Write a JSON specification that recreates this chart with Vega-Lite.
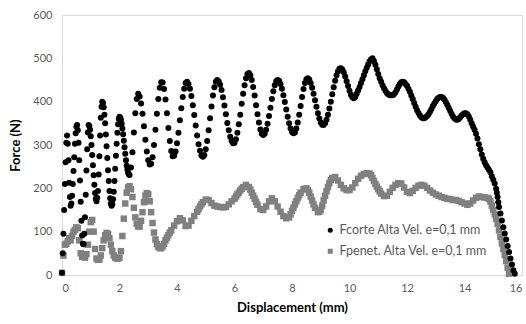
{
"$schema": "https://vega.github.io/schema/vega-lite/v6.json",
"autosize": "none",
"width": 460,
"height": 260,
"padding": {"left": 62, "top": 15, "right": 4, "bottom": 49},
"background": "white",
"config": {
  "view": {"stroke": "#d9d9d9", "strokeWidth": 1},
  "font": "Lato",
  "axis": {"labelColor": "#595959", "labelFont": "Lato", "labelFontSize": 11, "titleFont": "Lato", "titleFontSize": 13, "titleFontWeight": "bold", "titleColor": "#000000", "domainColor": "#d9d9d9", "ticks": false, "grid": false},
  "legend": {"labelColor": "#595959", "labelFont": "Lato", "labelFontSize": 12.5, "padding": 0}
},
"datasets": {
  "fc": [
{"x":0,"y":5},{"x":0.025,"y":50},{"x":0.05,"y":95},{"x":0.075,"y":150},{"x":0.1,"y":210},{"x":0.125,"y":260},{"x":0.15,"y":305},{"x":0.175,"y":322},{"x":0.2,"y":303},{"x":0.225,"y":265},{"x":0.25,"y":213},{"x":0.275,"y":180},{"x":0.3,"y":160},{"x":0.325,"y":165},{"x":0.35,"y":183},{"x":0.375,"y":210},{"x":0.4,"y":240},{"x":0.425,"y":272},{"x":0.45,"y":303},{"x":0.475,"y":327},{"x":0.5,"y":342},{"x":0.525,"y":346},{"x":0.55,"y":334},{"x":0.575,"y":305},{"x":0.6,"y":265},{"x":0.625,"y":218},{"x":0.65,"y":169},{"x":0.675,"y":125},{"x":0.7,"y":91},{"x":0.725,"y":72},{"x":0.75,"y":71},{"x":0.775,"y":95},{"x":0.8,"y":133},{"x":0.825,"y":185},{"x":0.85,"y":241},{"x":0.875,"y":290},{"x":0.9,"y":329},{"x":0.925,"y":346},{"x":0.95,"y":344},{"x":0.975,"y":335},{"x":1.0,"y":320},{"x":1.025,"y":300},{"x":1.05,"y":277},{"x":1.075,"y":253},{"x":1.1,"y":230},{"x":1.125,"y":208},{"x":1.15,"y":189},{"x":1.175,"y":176},{"x":1.2,"y":170},{"x":1.225,"y":178},{"x":1.25,"y":194},{"x":1.275,"y":232},{"x":1.3,"y":274},{"x":1.325,"y":322},{"x":1.35,"y":363},{"x":1.375,"y":388},{"x":1.4,"y":400},{"x":1.425,"y":397},{"x":1.45,"y":387},{"x":1.475,"y":370},{"x":1.5,"y":350},{"x":1.525,"y":324},{"x":1.55,"y":297},{"x":1.575,"y":270},{"x":1.6,"y":242},{"x":1.625,"y":217},{"x":1.65,"y":194},{"x":1.675,"y":177},{"x":1.7,"y":165},{"x":1.725,"y":160},{"x":1.75,"y":163},{"x":1.775,"y":175},{"x":1.8,"y":192},{"x":1.825,"y":217},{"x":1.85,"y":245},{"x":1.875,"y":275},{"x":1.9,"y":303},{"x":1.925,"y":328},{"x":1.95,"y":348},{"x":1.975,"y":360},{"x":2.0,"y":365},{"x":2.025,"y":363},{"x":2.05,"y":358},{"x":2.075,"y":349},{"x":2.1,"y":338},{"x":2.125,"y":325},{"x":2.15,"y":310},{"x":2.175,"y":295},{"x":2.2,"y":280},{"x":2.225,"y":265},{"x":2.25,"y":252},{"x":2.275,"y":243},{"x":2.3,"y":236},{"x":2.325,"y":232},{"x":2.35,"y":231},{"x":2.4,"y":248},{"x":2.45,"y":283},{"x":2.5,"y":329},{"x":2.55,"y":373},{"x":2.6,"y":406},{"x":2.65,"y":418},{"x":2.7,"y":412},{"x":2.75,"y":396},{"x":2.8,"y":372},{"x":2.85,"y":343},{"x":2.9,"y":312},{"x":2.95,"y":285},{"x":3.0,"y":265},{"x":3.05,"y":255},{"x":3.1,"y":257},{"x":3.15,"y":272},{"x":3.2,"y":300},{"x":3.25,"y":335},{"x":3.3,"y":372},{"x":3.35,"y":406},{"x":3.4,"y":432},{"x":3.45,"y":445},{"x":3.5,"y":444},{"x":3.55,"y":429},{"x":3.6,"y":405},{"x":3.65,"y":373},{"x":3.7,"y":339},{"x":3.75,"y":309},{"x":3.8,"y":286},{"x":3.85,"y":274},{"x":3.9,"y":275},{"x":3.95,"y":285},{"x":4.0,"y":304},{"x":4.05,"y":328},{"x":4.1,"y":357},{"x":4.15,"y":385},{"x":4.2,"y":411},{"x":4.25,"y":430},{"x":4.3,"y":443},{"x":4.35,"y":446},{"x":4.4,"y":441},{"x":4.45,"y":430},{"x":4.5,"y":413},{"x":4.55,"y":392},{"x":4.6,"y":369},{"x":4.65,"y":345},{"x":4.7,"y":322},{"x":4.75,"y":302},{"x":4.8,"y":287},{"x":4.85,"y":276},{"x":4.9,"y":273},{"x":4.95,"y":277},{"x":5.0,"y":290},{"x":5.05,"y":309},{"x":5.1,"y":334},{"x":5.15,"y":362},{"x":5.2,"y":389},{"x":5.25,"y":414},{"x":5.3,"y":433},{"x":5.35,"y":446},{"x":5.4,"y":450},{"x":5.45,"y":447},{"x":5.5,"y":439},{"x":5.55,"y":427},{"x":5.6,"y":410},{"x":5.65,"y":391},{"x":5.7,"y":371},{"x":5.75,"y":351},{"x":5.8,"y":334},{"x":5.85,"y":319},{"x":5.9,"y":309},{"x":5.95,"y":304},{"x":6.0,"y":305},{"x":6.05,"y":313},{"x":6.1,"y":328},{"x":6.15,"y":348},{"x":6.2,"y":370},{"x":6.25,"y":395},{"x":6.3,"y":418},{"x":6.35,"y":438},{"x":6.4,"y":454},{"x":6.45,"y":464},{"x":6.5,"y":466},{"x":6.55,"y":461},{"x":6.6,"y":450},{"x":6.65,"y":434},{"x":6.7,"y":414},{"x":6.75,"y":392},{"x":6.8,"y":371},{"x":6.85,"y":352},{"x":6.9,"y":336},{"x":6.95,"y":326},{"x":7.0,"y":323},{"x":7.05,"y":326},{"x":7.1,"y":335},{"x":7.15,"y":349},{"x":7.2,"y":367},{"x":7.25,"y":386},{"x":7.3,"y":406},{"x":7.35,"y":424},{"x":7.4,"y":438},{"x":7.45,"y":447},{"x":7.5,"y":450},{"x":7.55,"y":448},{"x":7.6,"y":441},{"x":7.65,"y":430},{"x":7.7,"y":415},{"x":7.75,"y":399},{"x":7.8,"y":382},{"x":7.85,"y":365},{"x":7.9,"y":350},{"x":7.95,"y":338},{"x":8.0,"y":330},{"x":8.05,"y":327},{"x":8.1,"y":329},{"x":8.15,"y":338},{"x":8.2,"y":352},{"x":8.25,"y":370},{"x":8.3,"y":390},{"x":8.35,"y":411},{"x":8.4,"y":429},{"x":8.45,"y":443},{"x":8.5,"y":452},{"x":8.55,"y":454},{"x":8.6,"y":451},{"x":8.65,"y":443},{"x":8.7,"y":432},{"x":8.75,"y":418},{"x":8.8,"y":403},{"x":8.85,"y":388},{"x":8.9,"y":373},{"x":8.95,"y":361},{"x":9.0,"y":352},{"x":9.05,"y":347},{"x":9.1,"y":346},{"x":9.15,"y":350},{"x":9.2,"y":358},{"x":9.25,"y":370},{"x":9.3,"y":384},{"x":9.35,"y":400},{"x":9.4,"y":417},{"x":9.45,"y":433},{"x":9.5,"y":448},{"x":9.55,"y":461},{"x":9.6,"y":470},{"x":9.65,"y":476},{"x":9.7,"y":477},{"x":9.75,"y":474},{"x":9.8,"y":468},{"x":9.85,"y":458},{"x":9.9,"y":447},{"x":9.95,"y":436},{"x":10.0,"y":425},{"x":10.05,"y":416},{"x":10.1,"y":410},{"x":10.15,"y":408},{"x":10.2,"y":411},{"x":10.25,"y":418},{"x":10.3,"y":426},{"x":10.35,"y":434},{"x":10.4,"y":443},{"x":10.45,"y":452},{"x":10.5,"y":461},{"x":10.55,"y":470},{"x":10.6,"y":478},{"x":10.65,"y":486},{"x":10.7,"y":493},{"x":10.75,"y":498},{"x":10.8,"y":500},{"x":10.85,"y":494},{"x":10.9,"y":485},{"x":10.95,"y":475},{"x":11.0,"y":464},{"x":11.05,"y":454},{"x":11.1,"y":446},{"x":11.15,"y":438},{"x":11.2,"y":431},{"x":11.25,"y":425},{"x":11.3,"y":420},{"x":11.35,"y":417},{"x":11.4,"y":415},{"x":11.45,"y":415},{"x":11.5,"y":415},{"x":11.55,"y":417},{"x":11.6,"y":422},{"x":11.65,"y":428},{"x":11.7,"y":435},{"x":11.75,"y":441},{"x":11.8,"y":445},{"x":11.85,"y":446},{"x":11.9,"y":445},{"x":11.95,"y":441},{"x":12.0,"y":437},{"x":12.05,"y":430},{"x":12.1,"y":423},{"x":12.15,"y":414},{"x":12.2,"y":406},{"x":12.25,"y":397},{"x":12.3,"y":388},{"x":12.35,"y":380},{"x":12.4,"y":374},{"x":12.45,"y":368},{"x":12.5,"y":364},{"x":12.55,"y":362},{"x":12.6,"y":362},{"x":12.65,"y":364},{"x":12.7,"y":367},{"x":12.75,"y":371},{"x":12.8,"y":377},{"x":12.85,"y":383},{"x":12.9,"y":390},{"x":12.95,"y":396},{"x":13.0,"y":401},{"x":13.05,"y":406},{"x":13.1,"y":409},{"x":13.15,"y":411},{"x":13.2,"y":411},{"x":13.25,"y":409},{"x":13.3,"y":405},{"x":13.35,"y":399},{"x":13.4,"y":393},{"x":13.45,"y":386},{"x":13.5,"y":379},{"x":13.55,"y":372},{"x":13.6,"y":366},{"x":13.65,"y":362},{"x":13.7,"y":359},{"x":13.75,"y":358},{"x":13.8,"y":360},{"x":13.85,"y":364},{"x":13.9,"y":368},{"x":13.95,"y":371},{"x":14.0,"y":373},{"x":14.05,"y":373},{"x":14.1,"y":371},{"x":14.15,"y":366},{"x":14.2,"y":358},{"x":14.25,"y":350},{"x":14.3,"y":342},{"x":14.35,"y":335},{"x":14.4,"y":326},{"x":14.45,"y":315},{"x":14.5,"y":302},{"x":14.55,"y":290},{"x":14.6,"y":278},{"x":14.65,"y":268},{"x":14.7,"y":260},{"x":14.75,"y":253},{"x":14.8,"y":248},{"x":14.85,"y":243},{"x":14.9,"y":237},{"x":14.95,"y":228},{"x":15.0,"y":220},{"x":15.05,"y":211},{"x":15.1,"y":199},{"x":15.125,"y":190},{"x":15.15,"y":180},{"x":15.175,"y":168},{"x":15.2,"y":157},{"x":15.25,"y":142},{"x":15.3,"y":126},{"x":15.35,"y":110},{"x":15.4,"y":96},{"x":15.45,"y":82},{"x":15.5,"y":67},{"x":15.55,"y":53},{"x":15.6,"y":38},{"x":15.65,"y":24},{"x":15.7,"y":11},{"x":15.75,"y":3}
  ],
  "fp": [
{"x":0,"y":5},{"x":0.05,"y":45},{"x":0.1,"y":70},{"x":0.15,"y":72},{"x":0.2,"y":78},{"x":0.25,"y":85},{"x":0.3,"y":80},{"x":0.35,"y":90},{"x":0.4,"y":100},{"x":0.45,"y":104},{"x":0.5,"y":110},{"x":0.55,"y":108},{"x":0.6,"y":80},{"x":0.65,"y":50},{"x":0.7,"y":42},{"x":0.75,"y":45},{"x":0.8,"y":40},{"x":0.85,"y":48},{"x":0.9,"y":70},{"x":0.95,"y":100},{"x":1.0,"y":122},{"x":1.05,"y":127},{"x":1.1,"y":100},{"x":1.15,"y":60},{"x":1.2,"y":38},{"x":1.25,"y":35},{"x":1.3,"y":36},{"x":1.35,"y":45},{"x":1.4,"y":62},{"x":1.45,"y":80},{"x":1.5,"y":92},{"x":1.55,"y":97},{"x":1.6,"y":95},{"x":1.65,"y":85},{"x":1.7,"y":70},{"x":1.75,"y":55},{"x":1.8,"y":45},{"x":1.85,"y":40},{"x":1.9,"y":38},{"x":1.95,"y":38},{"x":2.0,"y":40},{"x":2.05,"y":55},{"x":2.1,"y":90},{"x":2.15,"y":130},{"x":2.2,"y":165},{"x":2.25,"y":190},{"x":2.3,"y":202},{"x":2.35,"y":205},{"x":2.4,"y":198},{"x":2.45,"y":180},{"x":2.5,"y":155},{"x":2.55,"y":133},{"x":2.6,"y":118},{"x":2.65,"y":112},{"x":2.7,"y":112},{"x":2.75,"y":125},{"x":2.8,"y":145},{"x":2.85,"y":168},{"x":2.9,"y":183},{"x":2.95,"y":189},{"x":3.0,"y":186},{"x":3.05,"y":170},{"x":3.1,"y":145},{"x":3.15,"y":120},{"x":3.2,"y":98},{"x":3.25,"y":82},{"x":3.3,"y":71},{"x":3.35,"y":65},{"x":3.4,"y":62},{"x":3.45,"y":62},{"x":3.5,"y":66},{"x":3.55,"y":72},{"x":3.6,"y":80},{"x":3.65,"y":86},{"x":3.7,"y":92},{"x":3.75,"y":98},{"x":3.8,"y":103},{"x":3.9,"y":114},{"x":4.0,"y":124},{"x":4.1,"y":131},{"x":4.2,"y":126},{"x":4.3,"y":113},{"x":4.4,"y":114},{"x":4.5,"y":125},{"x":4.6,"y":136},{"x":4.7,"y":146},{"x":4.75,"y":152},{"x":4.8,"y":158},{"x":4.85,"y":163},{"x":4.9,"y":168},{"x":5.0,"y":174},{"x":5.1,"y":173},{"x":5.2,"y":166},{"x":5.3,"y":160},{"x":5.4,"y":158},{"x":5.5,"y":157},{"x":5.6,"y":156},{"x":5.7,"y":157},{"x":5.8,"y":163},{"x":5.9,"y":170},{"x":6.0,"y":176},{"x":6.05,"y":181},{"x":6.1,"y":186},{"x":6.15,"y":190},{"x":6.2,"y":195},{"x":6.25,"y":199},{"x":6.3,"y":203},{"x":6.4,"y":208},{"x":6.5,"y":203},{"x":6.55,"y":197},{"x":6.6,"y":190},{"x":6.65,"y":183},{"x":6.7,"y":176},{"x":6.75,"y":169},{"x":6.8,"y":162},{"x":6.9,"y":152},{"x":7.0,"y":150},{"x":7.1,"y":158},{"x":7.2,"y":170},{"x":7.3,"y":177},{"x":7.4,"y":170},{"x":7.5,"y":158},{"x":7.6,"y":146},{"x":7.7,"y":136},{"x":7.8,"y":131},{"x":7.9,"y":133},{"x":7.95,"y":140},{"x":8.0,"y":148},{"x":8.05,"y":155},{"x":8.1,"y":163},{"x":8.15,"y":170},{"x":8.2,"y":178},{"x":8.25,"y":184},{"x":8.3,"y":190},{"x":8.4,"y":198},{"x":8.5,"y":200},{"x":8.55,"y":196},{"x":8.6,"y":190},{"x":8.65,"y":181},{"x":8.7,"y":172},{"x":8.75,"y":163},{"x":8.8,"y":155},{"x":8.9,"y":145},{"x":8.95,"y":146},{"x":9.0,"y":150},{"x":9.05,"y":160},{"x":9.1,"y":172},{"x":9.15,"y":183},{"x":9.2,"y":193},{"x":9.25,"y":203},{"x":9.3,"y":212},{"x":9.35,"y":219},{"x":9.4,"y":224},{"x":9.5,"y":226},{"x":9.6,"y":218},{"x":9.7,"y":208},{"x":9.8,"y":200},{"x":9.9,"y":196},{"x":10.0,"y":196},{"x":10.1,"y":202},{"x":10.2,"y":212},{"x":10.3,"y":222},{"x":10.4,"y":229},{"x":10.5,"y":233},{"x":10.6,"y":235},{"x":10.7,"y":234},{"x":10.75,"y":230},{"x":10.8,"y":224},{"x":10.85,"y":217},{"x":10.9,"y":210},{"x":10.95,"y":204},{"x":11.0,"y":198},{"x":11.05,"y":193},{"x":11.1,"y":188},{"x":11.2,"y":182},{"x":11.3,"y":183},{"x":11.4,"y":192},{"x":11.5,"y":201},{"x":11.6,"y":208},{"x":11.7,"y":212},{"x":11.8,"y":211},{"x":11.9,"y":202},{"x":12.0,"y":192},{"x":12.1,"y":189},{"x":12.2,"y":194},{"x":12.3,"y":201},{"x":12.4,"y":206},{"x":12.5,"y":208},{"x":12.6,"y":206},{"x":12.7,"y":201},{"x":12.8,"y":195},{"x":12.9,"y":190},{"x":13.0,"y":186},{"x":13.1,"y":183},{"x":13.2,"y":180},{"x":13.3,"y":178},{"x":13.4,"y":176},{"x":13.5,"y":175},{"x":13.6,"y":173},{"x":13.7,"y":173},{"x":13.8,"y":171},{"x":13.9,"y":168},{"x":14.0,"y":165},{"x":14.1,"y":162},{"x":14.2,"y":165},{"x":14.3,"y":172},{"x":14.4,"y":178},{"x":14.5,"y":181},{"x":14.6,"y":180},{"x":14.7,"y":179},{"x":14.8,"y":178},{"x":14.85,"y":176},{"x":14.9,"y":170},{"x":14.95,"y":160},{"x":15.0,"y":150},{"x":15.05,"y":140},{"x":15.1,"y":130},{"x":15.15,"y":118},{"x":15.2,"y":103},{"x":15.25,"y":88},{"x":15.3,"y":73},{"x":15.35,"y":60},{"x":15.4,"y":46},{"x":15.45,"y":32},{"x":15.5,"y":17},{"x":15.55,"y":3}
  ]
},
"encoding": {
  "x": {"field": "x", "type": "quantitative", "title": "Displacement (mm)", "scale": {"domain": [0, 16], "nice": false}, "axis": {"values": [0,2,4,6,8,10,12,14,16], "labelPadding": 7, "titlePadding": 8}},
  "y": {"field": "y", "type": "quantitative", "title": "Force (N)", "scale": {"domain": [0, 600], "nice": false}, "axis": {"values": [0,100,200,300,400,500,600], "labelPadding": 10, "titlePadding": 10}}
},
"layer": [
  {
    "data": {"name": "fp"},
    "mark": {"type": "point", "filled": true, "opacity": 1, "size": 42},
    "encoding": {
      "color": {"datum": "Fpenet. Alta Vel. e=0,1 mm", "scale": {"domain": ["Fcorte Alta Vel. e=0,1 mm", "Fpenet. Alta Vel. e=0,1 mm"], "range": ["#000000", "#808080"]}, "legend": {"title": null, "orient": "none", "legendX": 262, "legendY": 209, "rowPadding": 8, "symbolSize": 25, "labelOffset": 3}},
      "shape": {"datum": "Fpenet. Alta Vel. e=0,1 mm", "scale": {"domain": ["Fcorte Alta Vel. e=0,1 mm", "Fpenet. Alta Vel. e=0,1 mm"], "range": ["circle", "square"]}, "legend": {"title": null, "orient": "none", "legendX": 262, "legendY": 209, "rowPadding": 8, "symbolSize": 25, "labelOffset": 3}}
    }
  },
  {
    "data": {"name": "fc"},
    "mark": {"type": "point", "filled": true, "opacity": 1, "size": 36},
    "encoding": {
      "color": {"datum": "Fcorte Alta Vel. e=0,1 mm"},
      "shape": {"datum": "Fcorte Alta Vel. e=0,1 mm"}
    }
  }
]
}
